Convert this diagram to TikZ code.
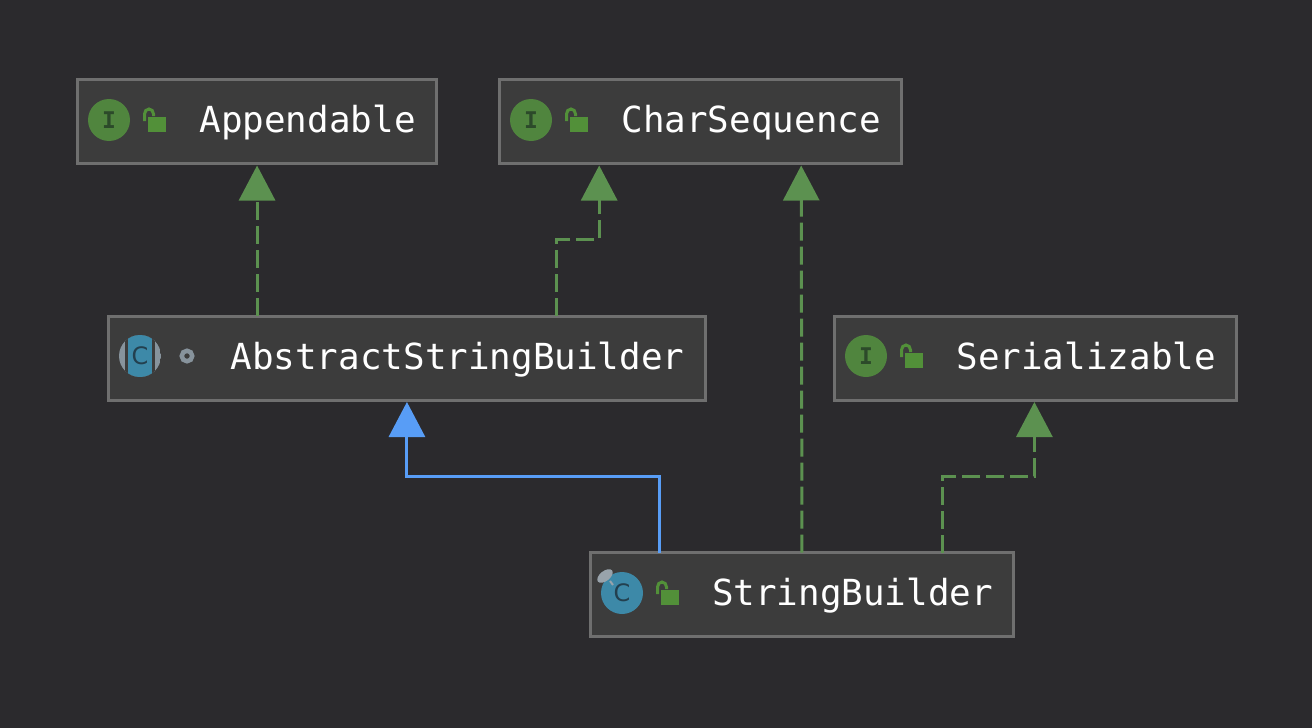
\documentclass[tikz,border=0pt]{standalone}
\usepackage{fontspec}
\setmonofont{DejaVu Sans Mono}
\setsansfont{DejaVu Sans}
\usepackage{xcolor}
\usepackage{tikz}
\usetikzlibrary{positioning, shapes, arrows.meta}

\definecolor{canvasbg}{HTML}{2B2A2D}
\definecolor{boxfill}{HTML}{3C3C3C}
\definecolor{boxline}{HTML}{6F6F6F}
\definecolor{implgreen}{HTML}{5C9150}
\definecolor{ifacegreen}{HTML}{50853E}
\definecolor{lockgreen}{HTML}{529039}
\definecolor{darkglyph}{HTML}{2C4A2A}
\definecolor{classteal}{HTML}{3D89A8}
\definecolor{classglyph}{HTML}{23404F}
\definecolor{markgray}{HTML}{87939C}
\definecolor{extendblue}{HTML}{589DF6}

\tikzset{
    classbox/.style={draw=boxline, fill=boxfill, line width=3pt, anchor=north west,
        minimum height=84pt, inner xsep=21pt, inner ysep=0pt, outer sep=0pt,
        text=white, text height=29pt, text depth=7pt,
        font=\ttfamily\fontsize{35.9}{40}\selectfont,
        execute at begin node=\hspace*{101pt}},
    iconbase/.style={circle, minimum size=42pt, inner sep=0pt},
    ifaceicon/.style={iconbase, fill=ifacegreen, text=darkglyph,
        font=\ttfamily\bfseries\fontsize{23}{24}\selectfont},
    classglyphnode/.style={inner sep=0pt, text=classglyph,
        font=\sffamily\fontsize{24}{25}\selectfont},
    implements/.style={draw=implgreen, line width=3pt, dash pattern=on 18pt off 6pt,
        -{Triangle[length=35pt,width=36pt]}, shorten >=2pt},
    extends/.style={draw=extendblue, line width=3pt,
        -{Triangle[length=35pt,width=36pt]}, shorten >=2pt},
    lockicon/.pic={
        \fill[lockgreen] (39,-3) rectangle (57,12);
        \draw[lockgreen, line width=3pt] (35.5,1) -- (35.5,-6) arc (180:0:4.5 and -5) -- (44.5,-4);
    }
}

\begin{document}
\begin{tikzpicture}[x=1pt, y=-1pt]
    \fill[canvasbg] (0,0) rectangle (1312,728);

    % class boxes
    \node[classbox] (appendable) at (77.5,79.5) {Appendable};
    \node[classbox] (charseq) at (499.5,79.5) {CharSequence};
    \node[classbox] (abstract) at (108.5,316) {AbstractStringBuilder};
    \node[classbox] (serial) at (834.5,316) {Serializable};
    \node[classbox] (builder) at (590,552.5) {StringBuilder};

    % interface icons
    \node[ifaceicon] (appendableIcon) at (109,120) {I};
    \pic at (109,120) {lockicon};
    \node[ifaceicon] (charseqIcon) at (531,120) {I};
    \pic at (531,120) {lockicon};
    \node[ifaceicon] (serialIcon) at (866,356) {I};
    \pic at (866,356) {lockicon};

    % abstract class icon
    \begin{scope}
        \clip (140,356) circle (21);
        \fill[markgray] (119,335) rectangle (161,377);
        \fill[boxfill] (125,335) rectangle (155,377);
        \fill[classteal] (128,335) rectangle (152,377);
    \end{scope}
    \node[classglyphnode] (abstractIcon) at (140,356) {C};
    \node[circle, draw=markgray, line width=4.5pt, minimum size=10.5pt, inner sep=0pt] (abstractDot) at (187,356) {};

    % final class icon
    \node[iconbase, fill=classteal] (builderCircle) at (622,593) {};
    \node[classglyphnode] (builderIcon) at (622,593) {C};
    \node[ellipse, fill=markgray!85!white, minimum width=18pt, minimum height=10pt, inner sep=0pt, rotate=38] (builderMark) at (605,576) {};
    \draw[markgray!85!white, line width=2pt] (610,581) -- (613,585);
    \pic at (622,593) {lockicon};

    % connectors
    \draw[implements] (appendable.south |- abstract.north) -- (appendable.south);
    \draw[implements] ([xshift=149.8pt]abstract.north) |- ([xshift=-101.5pt,yshift=-76pt]charseq.south) -- ([xshift=-101.5pt]charseq.south);
    \draw[implements] (builder.north) -- ([xshift=100.5pt]charseq.south);
    \draw[implements] ([xshift=140.8pt]builder.north) |- ([xshift=-1.3pt,yshift=-76pt]serial.south) -- ([xshift=-1.3pt]serial.south);
    \draw[extends] ([xshift=-142pt]builder.north) |- ([yshift=-76pt]abstract.south) -- (abstract.south);
\end{tikzpicture}
\end{document}
